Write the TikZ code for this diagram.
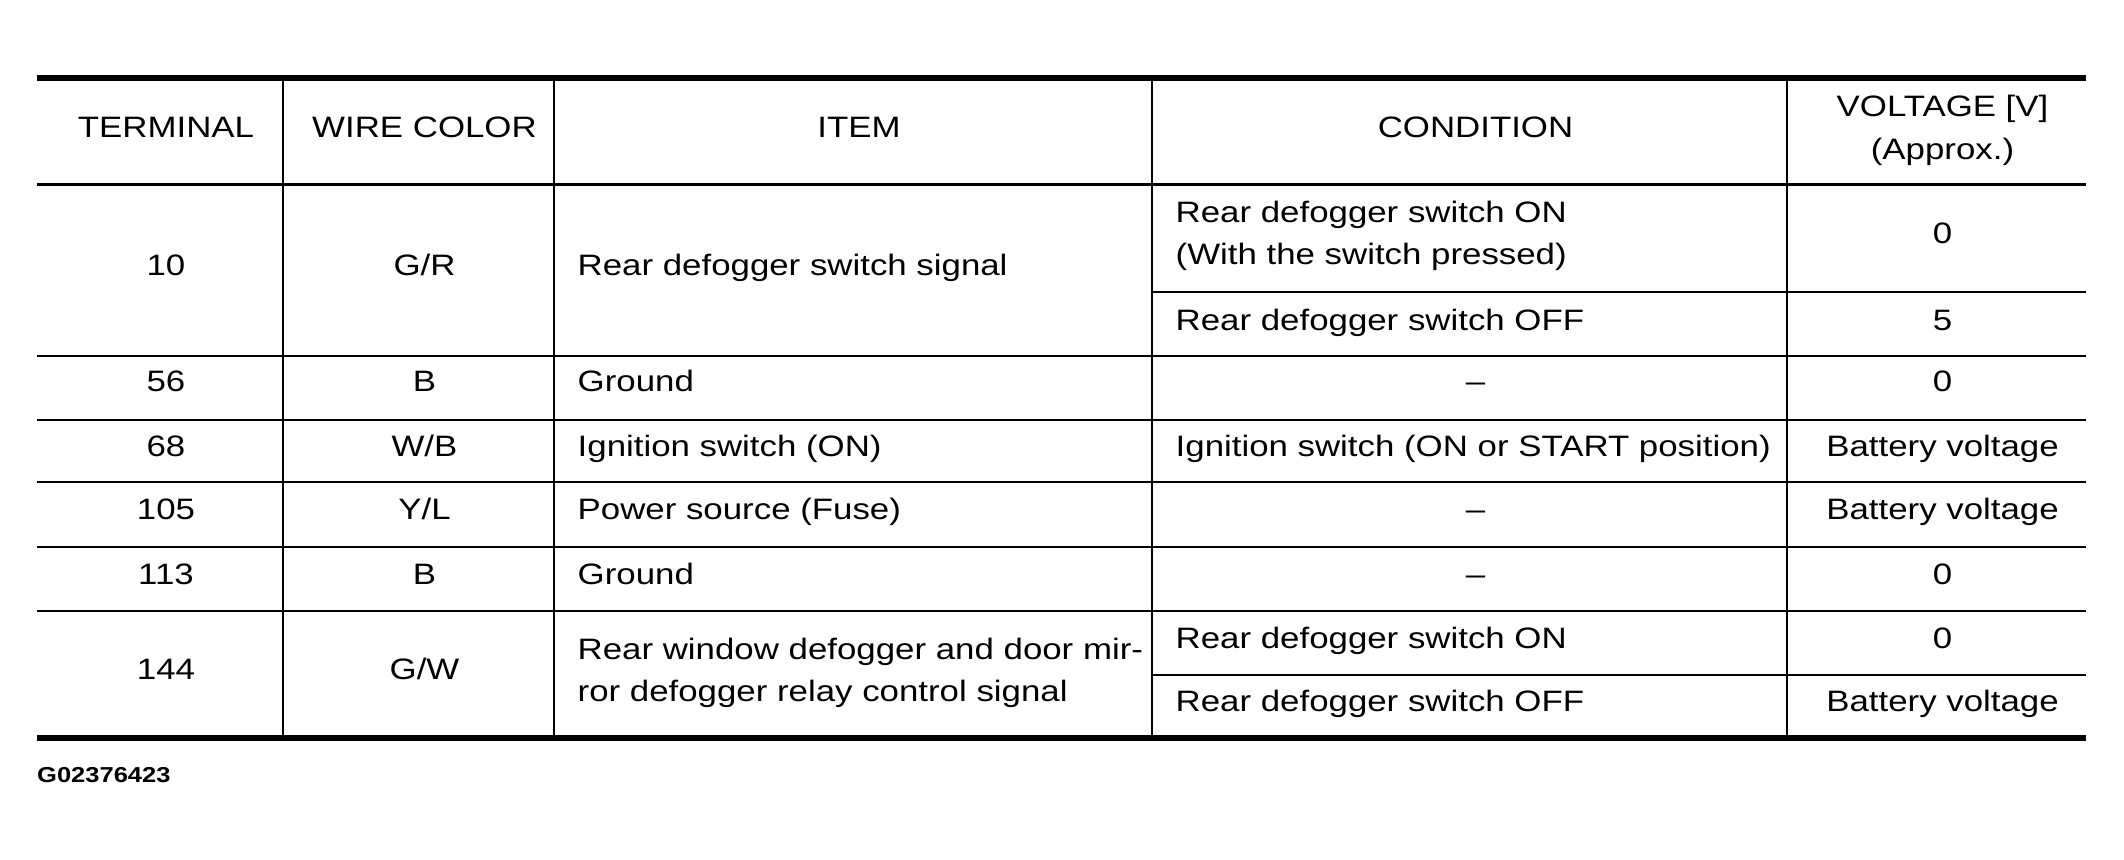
\documentclass[tikz,border=0pt]{standalone}
\usepackage{fontspec}
\setmainfont{Liberation Sans}[FakeStretch=1.18]
\begin{document}
\begin{tikzpicture}[x=0.1mm,y=-0.1mm,
  cell/.style={inner sep=0pt, anchor=base, font=\fontsize{8.4pt}{10pt}\selectfont},
  lcell/.style={cell, anchor=base west},
  coderef/.style={inner sep=0pt, anchor=base west, font=\fontsize{6.15pt}{8pt}\selectfont\bfseries},
  thickrule/.style={line width=0.55mm},
  headrule/.style={line width=0.3mm},
  thinrule/.style={line width=0.2mm}]
\fill[white] (0,0) rectangle (2124,860);
\useasboundingbox (0,0) rectangle (2124,860);
% horizontal rules
\draw[thickrule] (37,78) -- (2086,78);
\draw[headrule] (37,185) -- (2086,185);
\draw[thinrule] (1152,292) -- (2086,292);
\draw[thinrule] (37,356) -- (2086,356);
\draw[thinrule] (37,420.5) -- (2086,420.5);
\draw[thinrule] (37,482.3) -- (2086,482.3);
\draw[thinrule] (37,546.7) -- (2086,546.7);
\draw[thinrule] (37,611) -- (2086,611);
\draw[thinrule] (1152,675) -- (2086,675);
\draw[thickrule] (37,738) -- (2086,738);
% vertical rules
\foreach \xx in {283,554,1152,1787}
  \draw[thinrule] (\xx,78) -- (\xx,738);
% header
\node[cell] (hterm) at (166,137.5) {TERMINAL};
\node[cell] (hwire) at (424.5,137.5) {WIRE COLOR};
\node[cell] (hitem) at (859,137.5) {ITEM};
\node[cell] (hcond) at (1475.5,137.5) {CONDITION};
\node[cell] (hvolta) at (1942.5,116.5) {VOLTAGE [V]};
\node[cell] (hvoltb) at (1942.5,160) {(Approx.)};
% row 10
\node[cell] (t10) at (166,276) {10};
\node[cell] (w10) at (424.5,276) {G/R};
\node[lcell] (i10) at (577,276) {Rear defogger switch signal};
\node[lcell] (c10a) at (1175,222.5) {Rear defogger switch ON};
\node[lcell] (c10b) at (1175,264.5) {(With the switch pressed)};
\node[cell] (v10a) at (1942.5,244) {0};
\node[lcell] (c10c) at (1175,331) {Rear defogger switch OFF};
\node[cell] (v10b) at (1942.5,331) {5};
% row 56
\node[cell] (t56) at (166,392) {56};
\node[cell] (w56) at (424.5,392) {B};
\node[lcell] (i56) at (577,392) {Ground};
\node[cell] (c56) at (1475.5,392) {–};
\node[cell] (v56) at (1942.5,392) {0};
% row 68
\node[cell] (t68) at (166,457) {68};
\node[cell] (w68) at (424.5,457) {W/B};
\node[lcell] (i68) at (577,457) {Ignition switch (ON)};
\node[lcell] (c68) at (1175,457) {Ignition switch (ON or START position)};
\node[cell] (v68) at (1942.5,457) {Battery voltage};
% row 105
\node[cell] (t105) at (166,520) {105};
\node[cell] (w105) at (424.5,520) {Y/L};
\node[lcell] (i105) at (577,520) {Power source (Fuse)};
\node[cell] (c105) at (1475.5,520) {–};
\node[cell] (v105) at (1942.5,520) {Battery voltage};
% row 113
\node[cell] (t113) at (166,584.5) {113};
\node[cell] (w113) at (424.5,584.5) {B};
\node[lcell] (i113) at (577,584.5) {Ground};
\node[cell] (c113) at (1475.5,584.5) {–};
\node[cell] (v113) at (1942.5,584.5) {0};
% row 144
\node[cell] (t144) at (166,680) {144};
\node[cell] (w144) at (424.5,680) {G/W};
\node[lcell] (i144a) at (577,660) {Rear window defogger and door mir-};
\node[lcell] (i144b) at (577,702) {ror defogger relay control signal};
\node[lcell] (c144a) at (1175,649) {Rear defogger switch ON};
\node[cell] (v144a) at (1942.5,649) {0};
\node[lcell] (c144b) at (1175,712) {Rear defogger switch OFF};
\node[cell] (v144b) at (1942.5,712) {Battery voltage};
% figure code
\node[coderef] (figcode) at (36.5,783) {G02376423};
\end{tikzpicture}
\end{document}
